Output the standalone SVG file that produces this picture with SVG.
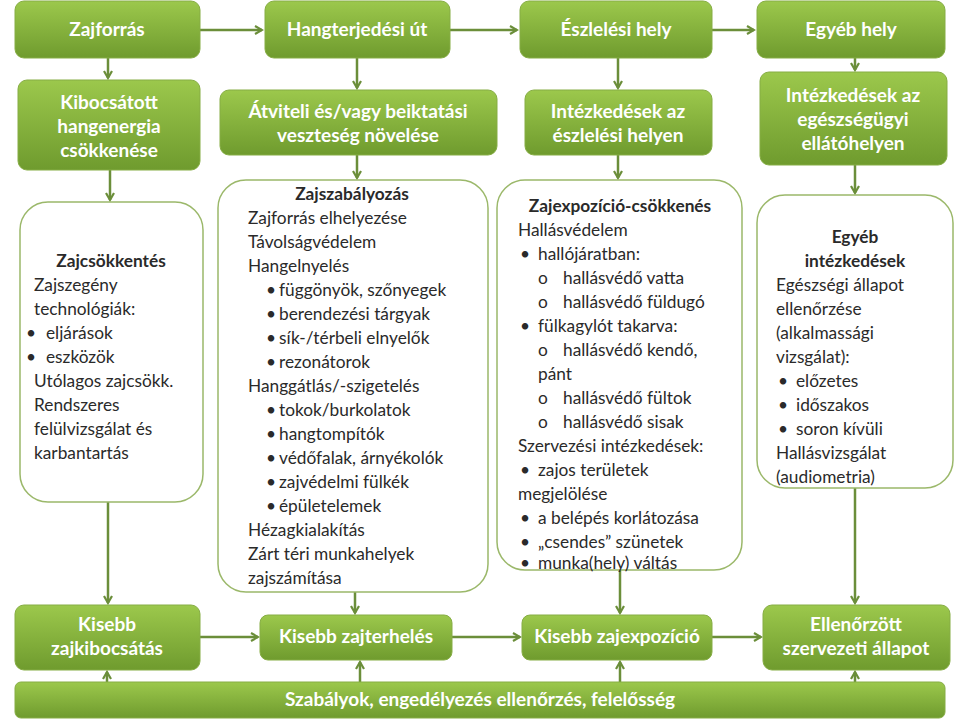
<svg xmlns="http://www.w3.org/2000/svg" width="960" height="720" viewBox="0 0 960 720">
<defs>
<linearGradient id="g" x1="0" y1="0" x2="0" y2="1"><stop offset="0" stop-color="#9cc84c"/><stop offset="1" stop-color="#6f9b2e"/></linearGradient>
<marker id="a" markerWidth="10" markerHeight="10" refX="8" refY="5" orient="auto" markerUnits="userSpaceOnUse"><path d="M1,1 L8,5 L1,9" fill="none" stroke="#6b8e3a" stroke-width="2.2"/></marker>
</defs>
<style>
.gb{fill:url(#g);stroke:#86ad44;stroke-width:1}
.wb{fill:#fff;stroke:#9bb86a;stroke-width:1.5}
.h{font-family:Lato,"Open Sans",sans-serif;font-weight:bold;font-size:19px;fill:#fff;text-anchor:middle}
.t{font-family:Lato,"Open Sans",sans-serif;font-size:17.3px;fill:#2a2a2a}
.b{font-weight:bold;text-anchor:middle}
#conn path{stroke:#6b8e3a;stroke-width:2.5;fill:none;marker-end:url(#a)}
</style>
<rect width="960" height="720" fill="#fff"/>
<g id="conn">
<path d="M200,30 H262"/><path d="M450,30 H517"/><path d="M712,30 H754"/>
<path d="M108,58 V78"/><path d="M357,58 V88"/><path d="M618,58 V88"/><path d="M855,58 V70"/>
<path d="M110,170 V200"/><path d="M357,155 V178"/><path d="M618,155 V178"/><path d="M855,165 V193"/>
<path d="M108,502 V603"/><path d="M355,592 V613"/><path d="M620,570 V613"/><path d="M855,488 V603"/>
<path d="M200,637 H258"/><path d="M452,637 H520"/><path d="M712,637 H761"/>
<path d="M107,682 V672"/><path d="M360,682 V662"/><path d="M620,682 V662"/><path d="M855,682 V672"/>
</g>
<g id="n1"><rect class="gb" x="15" y="1" width="185" height="57" rx="9"/><text class="h" x="107" y="36">Zajforrás</text></g>
<g id="n2"><rect class="gb" x="265" y="1" width="185" height="57" rx="9"/><text class="h" x="357" y="36">Hangterjedési út</text></g>
<g id="n3"><rect class="gb" x="520" y="1" width="192" height="57" rx="9"/><text class="h" x="616" y="36">Észlelési hely</text></g>
<g id="n4"><rect class="gb" x="757" y="1" width="188" height="57" rx="9"/><text class="h" x="851" y="36">Egyéb hely</text></g>
<g id="n5"><rect class="gb" x="18" y="80" width="182" height="90" rx="9"/><text class="h" x="109" y="109">Kibocsátott</text><text class="h" x="109" y="133">hangenergia</text><text class="h" x="109" y="157">csökkenése</text></g>
<g id="n6"><rect class="gb" x="220" y="90" width="277" height="65" rx="9"/><text class="h" x="358" y="118">Átviteli és/vagy beiktatási</text><text class="h" x="358" y="142">veszteség növelése</text></g>
<g id="n7"><rect class="gb" x="525" y="90" width="187" height="65" rx="9"/><text class="h" x="618" y="118">Intézkedések az</text><text class="h" x="618" y="142">észlelési helyen</text></g>
<g id="n8"><rect class="gb" x="760" y="72" width="187" height="93" rx="9"/><text class="h" x="853" y="102">Intézkedések az</text><text class="h" x="853" y="126">egészségügyi</text><text class="h" x="853" y="150">ellátóhelyen</text></g>
<g id="n9"><rect class="wb" x="20" y="202" width="183" height="300" rx="28"/>
<text class="t"><tspan class="b" x="111" y="267">Zajcsökkentés</tspan><tspan x="34" y="291">Zajszegény</tspan><tspan x="34" y="315">technológiák:</tspan><tspan x="26" y="339">•</tspan><tspan x="46" y="339">eljárások</tspan><tspan x="26" y="363">•</tspan><tspan x="46" y="363">eszközök</tspan><tspan x="34" y="387">Utólagos zajcsökk.</tspan><tspan x="34" y="411">Rendszeres</tspan><tspan x="34" y="435">felülvizsgálat és</tspan><tspan x="34" y="459">karbantartás</tspan></text></g>
<g id="n10"><rect class="wb" x="218" y="180" width="270" height="412" rx="28"/>
<text class="t"><tspan class="b" x="352" y="200">Zajszabályozás</tspan><tspan x="248" y="224">Zajforrás elhelyezése</tspan><tspan x="248" y="248">Távolságvédelem</tspan><tspan x="248" y="272">Hangelnyelés</tspan>
<tspan x="266" y="296">•</tspan><tspan x="279" y="296">függönyök, szőnyegek</tspan><tspan x="266" y="320">•</tspan><tspan x="279" y="320">berendezési tárgyak</tspan><tspan x="266" y="344">•</tspan><tspan x="279" y="344">sík-/térbeli elnyelők</tspan><tspan x="266" y="368">•</tspan><tspan x="279" y="368">rezonátorok</tspan>
<tspan x="248" y="392">Hanggátlás/-szigetelés</tspan><tspan x="266" y="416">•</tspan><tspan x="279" y="416">tokok/burkolatok</tspan><tspan x="266" y="440">•</tspan><tspan x="279" y="440">hangtompítók</tspan><tspan x="266" y="464">•</tspan><tspan x="279" y="464">védőfalak, árnyékolók</tspan><tspan x="266" y="488">•</tspan><tspan x="279" y="488">zajvédelmi fülkék</tspan><tspan x="266" y="512">•</tspan><tspan x="279" y="512">épületelemek</tspan>
<tspan x="248" y="536">Hézagkialakítás</tspan><tspan x="248" y="560">Zárt téri munkahelyek</tspan><tspan x="248" y="584">zajszámítása</tspan></text></g>
<g id="n11"><rect class="wb" x="497" y="180" width="245" height="390" rx="28"/>
<text class="t"><tspan class="b" x="620" y="212">Zajexpozíció-csökkenés</tspan><tspan x="518" y="236">Hallásvédelem</tspan>
<tspan x="520" y="260">•</tspan><tspan x="538" y="260">hallójáratban:</tspan><tspan x="538" y="284">o</tspan><tspan x="563" y="284">hallásvédő vatta</tspan><tspan x="538" y="308">o</tspan><tspan x="563" y="308">hallásvédő füldugó</tspan>
<tspan x="520" y="332">•</tspan><tspan x="538" y="332">fülkagylót takarva:</tspan><tspan x="538" y="356">o</tspan><tspan x="563" y="356">hallásvédő kendő,</tspan><tspan x="538" y="380">pánt</tspan><tspan x="538" y="404">o</tspan><tspan x="563" y="404">hallásvédő fültok</tspan><tspan x="538" y="428">o</tspan><tspan x="563" y="428">hallásvédő sisak</tspan>
<tspan x="518" y="452">Szervezési intézkedések:</tspan><tspan x="520" y="476">•</tspan><tspan x="538" y="476">zajos területek</tspan><tspan x="518" y="500">megjelölése</tspan><tspan x="520" y="524">•</tspan><tspan x="538" y="524">a belépés korlátozása</tspan><tspan x="520" y="548">•</tspan><tspan x="538" y="548">„csendes” szünetek</tspan><tspan x="520" y="569">•</tspan><tspan x="538" y="569">munka(hely) váltás</tspan></text></g>
<g id="n12"><rect class="wb" x="757" y="195" width="196" height="293" rx="28"/>
<text class="t"><tspan class="b" x="855" y="243">Egyéb</tspan><tspan class="b" x="855" y="267">intézkedések</tspan><tspan x="776" y="291">Egészségi állapot</tspan><tspan x="776" y="315">ellenőrzése</tspan><tspan x="776" y="339">(alkalmassági</tspan><tspan x="776" y="363">vizsgálat):</tspan>
<tspan x="778" y="387">•</tspan><tspan x="796" y="387">előzetes</tspan><tspan x="778" y="411">•</tspan><tspan x="796" y="411">időszakos</tspan><tspan x="778" y="435">•</tspan><tspan x="796" y="435">soron kívüli</tspan><tspan x="776" y="459">Hallásvizsgálat</tspan><tspan x="776" y="483">(audiometria)</tspan></text></g>
<g id="n13"><rect class="gb" x="15" y="605" width="185" height="65" rx="9"/><text class="h" x="107" y="631">Kisebb</text><text class="h" x="107" y="655">zajkibocsátás</text></g>
<g id="n14"><rect class="gb" x="260" y="615" width="192" height="45" rx="8"/><text class="h" x="356" y="643">Kisebb zajterhelés</text></g>
<g id="n15"><rect class="gb" x="522" y="615" width="190" height="45" rx="8"/><text class="h" x="617" y="643">Kisebb zajexpozíció</text></g>
<g id="n16"><rect class="gb" x="763" y="605" width="187" height="65" rx="9"/><text class="h" x="856" y="631">Ellenőrzött</text><text class="h" x="856" y="655">szervezeti állapot</text></g>
<g id="n17"><rect class="gb" x="15" y="682" width="930" height="36" rx="6"/><text class="h" x="480" y="706">Szabályok, engedélyezés  ellenőrzés, felelősség</text></g>
</svg>
